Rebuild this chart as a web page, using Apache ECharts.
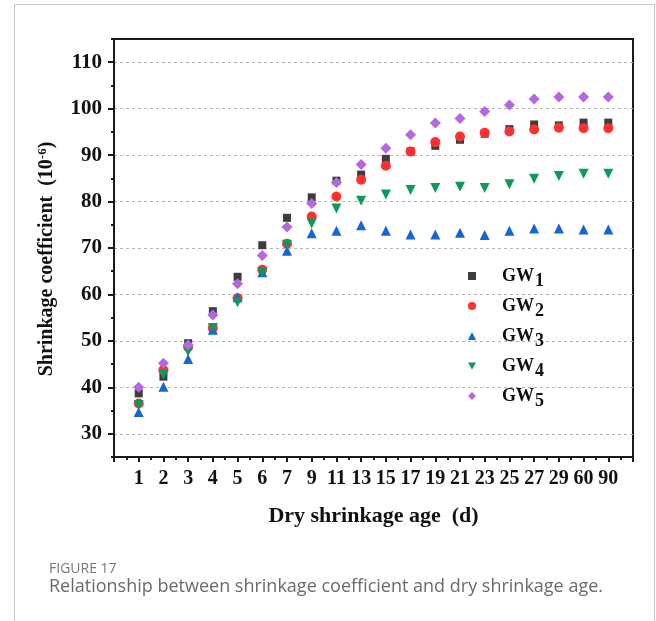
<!DOCTYPE html>
<html>
<head>
<meta charset="utf-8">
<script src="https://cdn.jsdelivr.net/npm/echarts@6/dist/echarts.min.js"></script>
<style>html,body{margin:0;padding:0;background:#fff}#c{width:656px;height:621px}</style>
</head>
<body>
<div id="c"></div>
<script>
// Category labels of the x axis (dry shrinkage age, d)
const ages = ['1','2','3','4','5','6','7','9','11','13','15','17','19','21','23','25','27','29','60','90'];
// Y tick labels
const yTicks = [30, 40, 50, 60, 70, 80, 90, 100, 110];
const yMinorTicks = [25, 35, 45, 55, 65, 75, 85, 95, 105, 115];
// Series values (shrinkage coefficient, 10^-6)
const GW1 = [38.7, 42.3, 49.5, 56.4, 63.8, 70.6, 76.5, 80.9, 84.5, 85.8, 89.2, 90.8, 92.0, 93.3, 94.6, 95.6, 96.6, 96.4, 97.0, 97.0];
const GW2 = [36.5, 43.7, 48.7, 52.8, 59.2, 65.3, 70.9, 76.8, 81.1, 84.7, 87.7, 90.8, 92.8, 94.0, 94.8, 95.1, 95.5, 95.9, 95.8, 95.8];
const GW3 = [34.7, 40.1, 46.1, 52.4, 59.4, 64.8, 69.4, 73.2, 73.7, 74.9, 73.7, 72.9, 72.9, 73.3, 72.8, 73.7, 74.2, 74.2, 74.0, 74.0];
const GW4 = [36.2, 42.7, 47.7, 52.8, 58.3, 64.8, 70.7, 75.3, 78.5, 80.2, 81.5, 82.5, 82.9, 83.2, 82.9, 83.7, 84.9, 85.5, 86.0, 86.0];
const GW5 = [40.0, 45.2, 49.1, 55.6, 62.3, 68.4, 74.5, 79.6, 84.1, 88.0, 91.5, 94.4, 96.9, 97.9, 99.4, 100.8, 102.1, 102.5, 102.5, 102.5];
const seriesNames = ['GW1', 'GW2', 'GW3', 'GW4', 'GW5'];

const serif = '"Liberation Serif", "Times New Roman", serif';
const toPts = arr => arr.map((v, i) => [i + 1, v]);

const seriesDefs = [
  { name: 'GW1', data: GW1, symbol: 'rect', size: 8, color: '#3d3d3d', rot: 0 },
  { name: 'GW2', data: GW2, symbol: 'circle', size: 10, color: '#ff3030', rot: 0 },
  { name: 'GW3', data: GW3, symbol: 'triangle', size: 10, color: '#1565d8', rot: 0 },
  { name: 'GW4', data: GW4, symbol: 'triangle', size: 10, color: '#0c9a5a', rot: 180 },
  { name: 'GW5', data: GW5, symbol: 'diamond', size: 11, color: '#b467e0', rot: 0 }
];

const chart = echarts.init(document.getElementById('c'), null, { renderer: 'canvas' });
chart.setOption({
  animation: false,
  backgroundColor: '#fff',
  graphic: [{
    type: 'polyline',
    shape: { points: [[14.5, 700], [14.5, 4.5], [654.5, 4.5], [654.5, 700]] },
    style: { stroke: '#c8c8c8', lineWidth: 1, fill: null },
    silent: true
  }],
  title: [
    { text: 'FIGURE 17', left: 44, top: 557,
      textStyle: { fontFamily: '"Open Sans", "Noto Sans", sans-serif', fontSize: 14, fontWeight: 'normal', color: '#777' } },
    { text: 'Relationship between shrinkage coefficient and dry shrinkage age.', left: 44, top: 573,
      textStyle: { fontFamily: '"Open Sans", "Noto Sans", sans-serif', fontSize: 18, fontWeight: 'normal', color: '#6a6a6a' } }
  ],
  grid: { left: 114, top: 39, right: 23, bottom: 164, show: true, borderColor: '#1a1a1a', borderWidth: 2, backgroundColor: 'transparent' },
  legend: {
    orient: 'vertical', left: 468, top: 262, padding: 0, itemGap: 2, itemWidth: 8, itemHeight: 8,
    data: seriesDefs.map(s => ({ name: s.name, icon: s.rot ? 'path://M0,0L10,0L5,9Z' : s.symbol, itemStyle: { color: s.color } })),
    formatter: n => '{a|GW}{s|' + n.slice(2) + '}',
    textStyle: {
      padding: [0, 0, 0, 21],
      rich: {
        a: { fontFamily: serif, fontWeight: 'bold', fontSize: 18, lineHeight: 18, color: '#111' },
        s: { fontFamily: serif, fontWeight: 'bold', fontSize: 18, lineHeight: 18, color: '#111', padding: [10, 0, 0, 1] }
      }
    }
  },
  xAxis: {
    type: 'value', min: 0, max: 21, interval: 1,
    name: 'Dry shrinkage age  (d)', nameLocation: 'middle', nameGap: 48,
    nameTextStyle: { fontFamily: serif, fontWeight: 'bold', fontSize: 22, color: '#111' },
    axisLine: { show: true, lineStyle: { color: '#1a1a1a', width: 2 } },
    axisTick: { show: true, length: 5, lineStyle: { color: '#1a1a1a', width: 2 } },
    minorTick: { show: true, splitNumber: 2, length: 3, lineStyle: { color: '#1a1a1a', width: 2 } },
    axisLabel: {
      margin: 12, fontFamily: serif, fontWeight: 'bold', fontSize: 20, color: '#111',
      formatter: v => (v >= 1 && v <= ages.length) ? ages[v - 1] : ''
    },
    splitLine: { show: false }
  },
  yAxis: [{
    type: 'value', min: 25, max: 115,
    name: 'Shrinkage coefficient  (10{sup|-6})', nameLocation: 'middle', nameGap: 56, nameRotate: 90,
    nameTextStyle: { fontFamily: serif, fontWeight: 'bold', fontSize: 20, color: '#111', padding: [0, 22, 0, 0],
      rich: { sup: { fontFamily: serif, fontWeight: 'bold', fontSize: 13, color: '#111', padding: [0, 0, 9, 0] } } },
    axisLine: { show: true, lineStyle: { color: '#1a1a1a', width: 2 } },
    axisTick: { show: true, length: 6, customValues: yTicks, lineStyle: { color: '#1a1a1a', width: 2 } },
    axisLabel: { customValues: yTicks, margin: 12, fontFamily: serif, fontWeight: 'bold', fontSize: 21, color: '#111' },
    splitLine: { show: true, lineStyle: { color: '#b4b4b4', width: 1, type: [3, 3] } }
  }, {
    type: 'value', min: 25, max: 115, position: 'left',
    axisLine: { show: false },
    axisTick: { show: true, length: 3, customValues: yMinorTicks, lineStyle: { color: '#1a1a1a', width: 2 } },
    axisLabel: { show: false },
    splitLine: { show: false }
  }],
  series: seriesDefs.map(s => ({
    name: s.name, type: 'scatter', data: toPts(s.data),
    symbol: s.symbol, symbolSize: s.size, symbolRotate: s.rot,
    itemStyle: { color: s.color, opacity: 1 }
  }))
});
</script>
</body>
</html>
